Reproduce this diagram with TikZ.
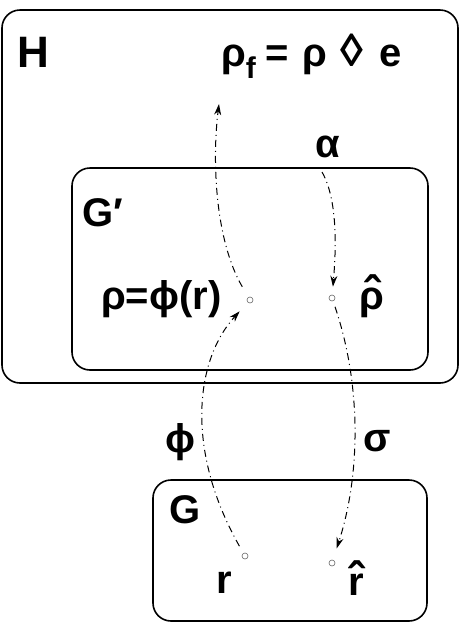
\documentclass[tikz,border=0pt]{standalone}
\usepackage{fontspec}
\setmainfont{Liberation Sans}
\usetikzlibrary{arrows.meta}
\newcommand\hatover[1]{\ooalign{#1\cr\hidewidth\raisebox{-0.04em}{\scalebox{1.2}{\char"02C6}}\hidewidth\cr}}
\begin{document}
\begin{tikzpicture}[x=1pt,y=-1pt,
  box/.style={draw, line width=1.6pt, rounded corners=18pt},
  lab/.style={font=\fontsize{40}{44}\selectfont\bfseries, inner sep=0pt, anchor=base},
  dot/.style={draw, circle, inner sep=0pt, minimum size=6pt, line width=0.6pt, black!60},
  conn/.style={line width=1pt, dash pattern=on 7pt off 4pt on 1pt off 4pt, -{Stealth[length=11pt,width=7pt]}},
]
\useasboundingbox (0,0) rectangle (466,625);
\draw[box] (2,10) rectangle (458,383);
\draw[box] (72,168) rectangle (428,370);
\draw[box] (153,480) rectangle (427,621);

\node[lab, font=\fontsize{44}{48}\selectfont\bfseries] (H) at (33,67) {H};
\node[lab, anchor=base west] (rhof) at (221,66) {ρ\raisebox{-0.3em}{\fontsize{30}{32}\selectfont f}\hspace{10pt}=\hspace{13pt}ρ\hspace{13pt}{\fontsize{46}{48}\selectfont ◊}\hspace{17pt}e};
\node[lab] (alpha) at (328,157) {α};
\node[lab, anchor=base west] (Gp) at (82,226) {G′};
\node[lab, anchor=base west] (rho) at (101,309) {ρ=ϕ(r)};
\node[lab] (rhohat) at (372,309) {\hatover{ρ}};
\node[lab] (phi) at (180,452) {ϕ};
\node[lab] (sigma) at (377,451) {σ};
\node[lab, anchor=base west] (G) at (169,523) {G};
\node[lab] (r) at (224,593) {r};
\node[lab] (rhat) at (356,595) {\hatover{r}};

\node[dot] (crho) at (250,300) {};
\node[dot] (crhohat) at (332,298) {};
\node[dot] (cr) at (245,556) {};
\node[dot] (crhat) at (332,563) {};
\coordinate (rfin) at (219,104);
\coordinate (astart) at (322,172);

\draw[conn, shorten <=8pt, shorten >=12pt] (cr) .. controls (185,450) and (195,360) .. (crho);
\draw[conn, shorten <=12pt] (crho) .. controls (215,240) and (212,160) .. (rfin);
\draw[conn, shorten >=8pt] (astart) .. controls (338,200) and (336,250) .. (crhohat);
\draw[conn, shorten <=6pt, shorten >=12pt] (crhohat) .. controls (360,380) and (362,470) .. (crhat);
\end{tikzpicture}
\end{document}
